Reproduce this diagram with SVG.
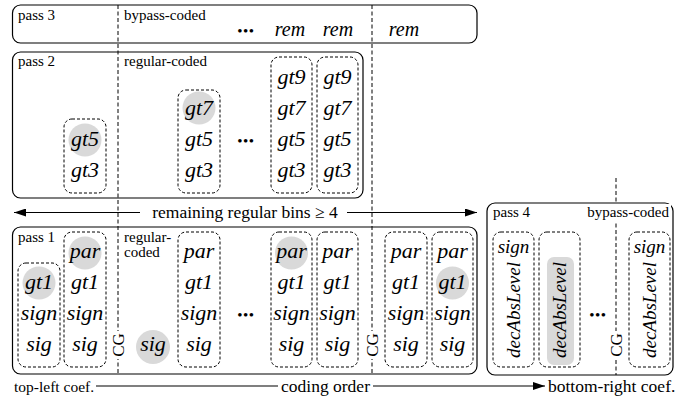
<svg xmlns="http://www.w3.org/2000/svg" width="684" height="399" viewBox="0 0 684 399">
<style>
.box{fill:none;stroke:#000;stroke-width:1.2}
.col{fill:none;stroke:#000;stroke-width:1;stroke-dasharray:3 2}
.vd{stroke:#000;stroke-width:1;stroke-dasharray:4 2.5}
.shade{fill:#d9d9d9}
text{font-family:'Liberation Serif','Times New Roman',Times,'DejaVu Serif',serif;fill:#000}
.lbl{font-size:15px}
.it{font-style:italic;font-size:22px;text-anchor:middle}
.it4{font-style:italic;font-size:19px;text-anchor:middle}
.rem{font-style:italic;font-size:20px;text-anchor:middle}
.cg{font-size:17px;text-anchor:middle}
.dots{font-size:15px;letter-spacing:0.5px;text-anchor:middle}
.big{font-size:17.5px}
.ln{stroke:#000;stroke-width:1.2;fill:none}
</style>
<defs>
<marker id="ah" markerWidth="12" markerHeight="8" refX="12" refY="4" orient="auto" markerUnits="userSpaceOnUse">
<path d="M0,0 L12,4 L0,8 Z" fill="#000"/>
</marker>
</defs>
<rect width="684" height="399" fill="#fff"/>

<g id="connectors">
<line class="ln" x1="140" y1="212.5" x2="14" y2="212.5" marker-end="url(#ah)"/>
<line class="ln" x1="347" y1="212.5" x2="477" y2="212.5" marker-end="url(#ah)"/>
<line class="ln" x1="96" y1="386" x2="278" y2="386"/>
<line class="ln" x1="373" y1="386" x2="545" y2="386" marker-end="url(#ah)"/>
<line class="vd" x1="118" y1="5" x2="118" y2="374"/>
<line class="vd" x1="372" y1="5" x2="372" y2="374"/>
<line class="vd" x1="616" y1="178" x2="616" y2="375"/>
</g>

<g id="pass3">
<rect class="box" x="12.5" y="5" width="464.5" height="38" rx="8"/>
<text class="lbl" x="18" y="20">pass 3</text>
<text class="lbl" x="124" y="20">bypass-coded</text>
<text class="dots" x="246" y="36">•••</text>
<text class="rem" x="290" y="36">rem</text>
<text class="rem" x="338" y="36">rem</text>
<text class="rem" x="404" y="36">rem</text>
</g>

<g id="pass2">
<rect class="box" x="12.5" y="52" width="350.5" height="146" rx="8"/>
<text class="lbl" x="18" y="66">pass 2</text>
<text class="lbl" x="124" y="66">regular-coded</text>
<circle class="shade" cx="85" cy="140" r="16.5"/>
<circle class="shade" cx="199" cy="108" r="16.5"/>
<rect class="col" x="64" y="119" width="42" height="74" rx="8"/>
<rect class="col" x="178" y="90" width="42" height="103" rx="8"/>
<rect class="col" x="271" y="57" width="41" height="136" rx="8"/>
<rect class="col" x="317" y="57" width="41" height="136" rx="8"/>
<text class="it" x="85" y="146">gt5</text>
<text class="it" x="85" y="177">gt3</text>
<text class="it" x="199" y="115">gt7</text>
<text class="it" x="199" y="146">gt5</text>
<text class="it" x="199" y="177">gt3</text>
<text class="dots" x="246" y="146">•••</text>
<text class="it" x="291.5" y="84">gt9</text>
<text class="it" x="291.5" y="115">gt7</text>
<text class="it" x="291.5" y="146">gt5</text>
<text class="it" x="291.5" y="177">gt3</text>
<text class="it" x="337.5" y="84">gt9</text>
<text class="it" x="337.5" y="115">gt7</text>
<text class="it" x="337.5" y="146">gt5</text>
<text class="it" x="337.5" y="177">gt3</text>
</g>

<g id="remaining">
<text class="big" x="245" y="218" text-anchor="middle">remaining regular bins ≥ 4</text>
</g>

<g id="pass1">
<rect class="box" x="12.5" y="227" width="464.5" height="147" rx="8"/>
<text class="lbl" x="18" y="242">pass 1</text>
<text class="lbl" x="124" y="242">regular-</text>
<text class="lbl" x="124" y="257">coded</text>
<circle class="shade" cx="39" cy="283" r="16.5"/>
<circle class="shade" cx="85" cy="253" r="16.5"/>
<circle class="shade" cx="153" cy="347" r="17"/>
<circle class="shade" cx="291.5" cy="253" r="16.5"/>
<circle class="shade" cx="452.5" cy="283" r="16.5"/>
<rect class="col" x="18" y="263" width="42" height="104" rx="8"/>
<rect class="col" x="64" y="232" width="42" height="135" rx="8"/>
<rect class="col" x="178" y="232" width="42" height="135" rx="8"/>
<rect class="col" x="271" y="232" width="41" height="135" rx="8"/>
<rect class="col" x="317" y="232" width="41" height="135" rx="8"/>
<rect class="col" x="385" y="232" width="42" height="135" rx="8"/>
<rect class="col" x="432" y="232" width="41" height="135" rx="8"/>
<text class="it" x="39" y="289">gt1</text>
<text class="it" x="39" y="320">sign</text>
<text class="it" x="39" y="351">sig</text>
<text class="it" x="85" y="258">par</text>
<text class="it" x="85" y="289">gt1</text>
<text class="it" x="85" y="320">sign</text>
<text class="it" x="85" y="351">sig</text>
<text class="it" x="153" y="351">sig</text>
<text class="it" x="199" y="258">par</text>
<text class="it" x="199" y="289">gt1</text>
<text class="it" x="199" y="320">sign</text>
<text class="it" x="199" y="351">sig</text>
<text class="dots" x="246" y="320">•••</text>
<text class="it" x="291.5" y="258">par</text>
<text class="it" x="291.5" y="289">gt1</text>
<text class="it" x="291.5" y="320">sign</text>
<text class="it" x="291.5" y="351">sig</text>
<text class="it" x="337.5" y="258">par</text>
<text class="it" x="337.5" y="289">gt1</text>
<text class="it" x="337.5" y="320">sign</text>
<text class="it" x="337.5" y="351">sig</text>
<text class="it" x="406" y="258">par</text>
<text class="it" x="406" y="289">gt1</text>
<text class="it" x="406" y="320">sign</text>
<text class="it" x="406" y="351">sig</text>
<text class="it" x="452.5" y="258">par</text>
<text class="it" x="452.5" y="289">gt1</text>
<text class="it" x="452.5" y="320">sign</text>
<text class="it" x="452.5" y="351">sig</text>
</g>

<g id="cg1">
<rect x="111" y="331" width="14" height="28" fill="#fff"/>
<text class="cg" transform="translate(124,345) rotate(-90)">CG</text>
</g>
<g id="cg2">
<rect x="365" y="331" width="14" height="28" fill="#fff"/>
<text class="cg" transform="translate(378,345) rotate(-90)">CG</text>
</g>

<g id="pass4">
<rect class="box" x="487" y="203" width="186" height="172" rx="8"/>
<text class="lbl" x="493" y="217">pass 4</text>
<rect x="584" y="204" width="87" height="18" fill="#fff"/>
<text class="lbl" x="669" y="217" text-anchor="end">bypass-coded</text>
<rect class="shade" x="547" y="257" width="27" height="108" rx="7"/>
<rect class="col" x="493" y="232" width="41" height="135" rx="8"/>
<rect class="col" x="539" y="232" width="41" height="135" rx="8"/>
<rect class="col" x="629" y="232" width="41" height="135" rx="8"/>
<text class="it4" x="513.5" y="253">sign</text>
<text class="it4" transform="translate(520,310) rotate(-90)">decAbsLevel</text>
<text class="it4" transform="translate(566,310) rotate(-90)">decAbsLevel</text>
<text class="dots" x="598" y="320">•••</text>
<rect x="609" y="331" width="14" height="28" fill="#fff"/>
<text class="cg" transform="translate(622,345) rotate(-90)">CG</text>
<text class="it4" x="649.5" y="253">sign</text>
<text class="it4" transform="translate(656,310) rotate(-90)">decAbsLevel</text>
</g>

<g id="axis-labels">
<text class="big" x="14" y="392" style="font-size:15.5px">top-left coef.</text>
<text class="big" x="325.5" y="392" text-anchor="middle">coding order</text>
<text class="big" x="548" y="392">bottom-right coef.</text>
</g>
</svg>
